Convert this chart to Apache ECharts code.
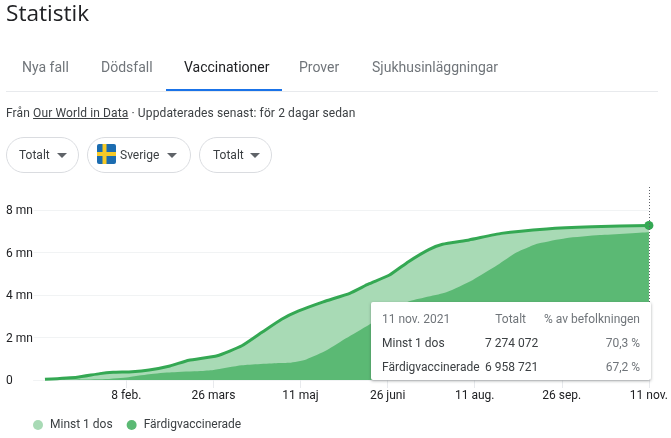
<!DOCTYPE html>
<html lang="sv"><head><meta charset="utf-8">
<script src="https://cdn.jsdelivr.net/npm/echarts@6/dist/echarts.min.js"></script>
<style>
html,body{margin:0;padding:0;background:#fff;width:671px;height:438px;overflow:hidden;font-family:Roboto,Arial,sans-serif;color:#202124}
#chart{position:absolute;left:0;top:0;width:671px;height:438px}
.t{position:absolute;white-space:nowrap}
.tab{top:58px;font-size:14px;line-height:18px;color:#70757a}
.chip{position:absolute;top:137px;height:34px;border:1px solid #dadce0;border-radius:18px;box-sizing:content-box}
.chip span{position:absolute;top:9px;font-size:12px;line-height:16px;color:#3c4043}
.chip i{position:absolute;top:15px;width:0;height:0;border-left:5px solid transparent;border-right:5px solid transparent;border-top:5px solid #5f6368}
</style></head><body>
<div id="chart"></div>
<div class="t" style="left:6px;top:0;font-family:'Open Sans',sans-serif;font-size:22.6px;font-weight:500;line-height:25px;color:#202124">Statistik</div>
<div class="t tab" style="left:22px">Nya fall</div>
<div class="t tab" style="left:101px">Dödsfall</div>
<div class="t tab" style="left:184px;color:#202124">Vaccinationer</div>
<div class="t tab" style="left:299px">Prover</div>
<div class="t tab" style="left:372px">Sjukhusinläggningar</div>
<div style="position:absolute;left:6px;top:91px;width:652px;height:1px;background:#e8eaed"></div>
<div style="position:absolute;left:166px;top:89px;width:116px;height:2px;background:#1a73e8"></div>
<div class="t" style="left:6px;top:105px;font-size:12px;line-height:16px;color:#3c4043;letter-spacing:.12px">Från <u>Our World in Data</u> · Uppdaterades senast: för 2 dagar sedan</div>
<div class="chip" style="left:6px;width:71px"><span style="left:12px">Totalt</span><i style="left:50px"></i></div>
<div class="chip" style="left:87px;width:102px">
<svg style="position:absolute;left:9px;top:6px" width="19" height="20" viewBox="0 0 19 20"><rect width="19" height="20" rx="2" fill="#1b6cb0"/><rect x="5.5" width="4" height="20" fill="#f6c927"/><rect y="8" width="19" height="4" fill="#f6c927"/></svg>
<span style="left:32px">Sverige</span><i style="left:79px"></i></div>
<div class="chip" style="left:199px;width:71px"><span style="left:13px">Totalt</span><i style="left:50px"></i></div>
<script>
const dosOneDates = ['2020-12-27','2021-01-13','2021-01-25','2021-02-01','2021-02-11','2021-02-20','2021-03-03','2021-03-13','2021-03-28','2021-04-10','2021-04-21','2021-05-01','2021-05-10','2021-05-23','2021-06-06','2021-06-16','2021-06-27','2021-07-07','2021-07-18','2021-07-25','2021-08-08','2021-08-25','2021-09-18','2021-10-12','2021-11-11'];
const dosOneValues = [0.03,0.13,0.30,0.36,0.39,0.47,0.66,0.93,1.14,1.61,2.27,2.86,3.25,3.68,4.08,4.52,4.94,5.57,6.15,6.39,6.59,6.90,7.11,7.21,7.274];
const fullDates = ['2020-12-27','2021-01-25','2021-02-08','2021-02-20','2021-03-04','2021-03-19','2021-03-26','2021-04-10','2021-04-30','2021-05-05','2021-05-14','2021-05-25','2021-06-04','2021-06-16','2021-06-27','2021-07-07','2021-07-27','2021-08-10','2021-08-23','2021-09-02','2021-09-09','2021-09-14','2021-09-28','2021-10-16','2021-11-11'];
const fullValues = [0.01,0.03,0.12,0.27,0.36,0.42,0.47,0.69,0.80,0.81,0.97,1.41,1.96,2.59,3.15,3.69,4.13,4.71,5.41,6.00,6.27,6.43,6.67,6.82,6.959];
const tickDates = ['2021-02-08','2021-03-26','2021-05-11','2021-06-26','2021-08-11','2021-09-26','2021-11-11'];
const tickLabels = ['8 feb.','26 mars','11 maj','26 juni','11 aug.','26 sep.','11 nov.'];
const seriesNames = ['Minst 1 dos','Färdigvaccinerade'];
const tipHeader = ['11 nov. 2021','Totalt','% av befolkningen'];
const tipRows = [['Minst 1 dos','7 274 072','70,3 %'],['Färdigvaccinerade','6 958 721','67,2 %']];

const ts = s => Date.UTC(+s.slice(0,4), +s.slice(5,7)-1, +s.slice(8,10));
const tickTs = tickDates.map(ts);
const pairs = (d, v) => d.map((x, i) => [ts(x), v[i]]);
const dosOne = pairs(dosOneDates, dosOneValues);
const full = pairs(fullDates, fullValues);
const last = dosOne[dosOne.length - 1];

const chart = echarts.init(document.getElementById('chart'));
chart.setOption({
  animation:false,
  textStyle:{fontFamily:'Roboto, Arial, sans-serif'},
  grid:{left:33.6,right:20.5,top:186,bottom:58},
  legend:{left:28,top:414,itemWidth:10,itemHeight:10,itemGap:14,icon:'circle',
    selectedMode:false,
    textStyle:{fontSize:12,color:'#3c4043',padding:[0,0,0,2]},
    data:seriesNames},
  xAxis:{type:'value',min:ts('2020-12-21'),max:ts('2021-11-11'),
    axisLine:{show:true,onZero:false,lineStyle:{color:'#f1f3f4',width:1}},
    axisTick:{show:true,customValues:tickTs,length:8,lineStyle:{color:'#e8eaed'}},
    axisLabel:{show:true,customValues:tickTs,fontSize:12,color:'#202124',margin:10,hideOverlap:false,
      formatter:v=>tickLabels[tickTs.indexOf(v)]||''},
    splitLine:{show:false},
    axisPointer:{show:true,type:'line',snap:true,triggerEmphasis:false,label:{show:false},
      lineStyle:{color:'#5f6368',type:[1,2],width:1}}},
  yAxis:{type:'value',min:0,max:9.13,interval:2,
    axisLine:{show:false},axisTick:{show:false},
    axisLabel:{align:'left',margin:27.6,fontSize:12,color:'#202124',showMaxLabel:false,verticalAlign:'top',padding:[-5,0,0,0],
      formatter:v=>v===0?'0':v+' mn'},
    splitLine:{show:true,showMaxLine:false,lineStyle:{color:'#f1f3f4',width:1}}},
  tooltip:{show:true,trigger:'axis',alwaysShowContent:true,position:[371,302],
    padding:0,borderWidth:0,backgroundColor:'#fff',transitionDuration:0,
    extraCssText:'border-radius:2px;box-shadow:0 1px 3px rgba(60,64,67,.45);width:280px;height:78px;',
    formatter:()=>{
      const cell=(txt,side,pos,t,c)=>`<div style="position:absolute;${side}:${pos}px;top:${t}px;font:12px/16px Roboto,Arial,sans-serif;color:${c};white-space:nowrap">${txt}</div>`;
      const g='#70757a',d='#3c4043';
      let h=cell(tipHeader[0],'left',11,9,g)+cell(tipHeader[1],'right',125,9,g)+cell(tipHeader[2],'right',11,9,g);
      tipRows.forEach((r,i)=>{const t=33+i*24;h+=cell(r[0],'left',11,t,d)+cell(r[1],'left',114,t,d)+cell(r[2],'right',11,t,g);});
      return h;
    }},
  series:[
    {name:seriesNames[0],type:'line',data:dosOne,smooth:0.15,symbol:'none',z:2,
      itemStyle:{color:'#a8dab5'},lineStyle:{width:0},areaStyle:{color:'#a8dab5',opacity:1}},
    {name:seriesNames[1],type:'line',data:full,smooth:0.2,symbol:'none',z:3,
      itemStyle:{color:'#5bb974'},lineStyle:{width:0},areaStyle:{color:'#5bb974',opacity:1}},
    {name:'linje',type:'line',data:dosOne,smooth:0.15,symbol:'none',z:4,silent:true,
      itemStyle:{color:'#34a853'},lineStyle:{width:3,color:'#34a853'},
      markPoint:{silent:true,symbol:'circle',symbolSize:9,itemStyle:{color:'#34a853'},label:{show:false},
        data:[{coord:last}]}}
  ]
});
chart.dispatchAction({type:'showTip',seriesIndex:0,dataIndex:dosOne.length-1});
</script>
</body></html>
